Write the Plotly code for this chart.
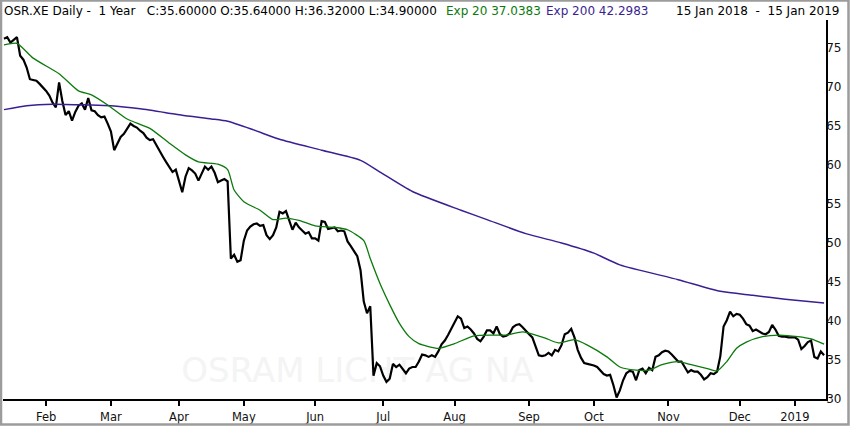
import pandas as pd
import plotly.graph_objects as go

# ---------------- data ----------------
holidays = ["2018-03-30", "2018-04-02", "2018-05-01", "2018-12-24",
            "2018-12-25", "2018-12-26", "2018-12-31", "2019-01-01"]
dates = [d.strftime("%Y-%m-%d") for d in pd.bdate_range("2018-01-15", "2019-01-15")
         if d.strftime("%Y-%m-%d") not in holidays]

close = [
    76.2, 76.4, 75.7, 76.0, 76.4, 74.0, 73.5, 72.5, 71.0, 70.9,
    70.8, 70.4, 70.0, 69.5, 68.9, 68.0, 67.4, 70.6, 68.2, 66.4,
    66.9, 65.7, 66.8, 67.6, 67.9, 67.1, 68.6, 67.0, 66.9, 66.4,
    66.1, 66.2, 65.3, 64.3, 61.9, 62.8, 63.6, 64.0, 64.6, 65.3,
    65.0, 64.8, 64.4, 64.1, 63.5, 63.2, 63.3, 62.5, 61.7, 61.1,
    60.4, 59.7, 59.1, 59.4, 57.8, 56.5, 58.5, 59.6, 59.3, 58.9,
    58.0, 59.0, 59.8, 59.4, 59.8, 59.0, 57.8, 58.0, 58.2, 57.9,
    48.0, 48.5, 47.6, 47.8, 50.3, 51.6, 52.1, 52.4, 52.5, 52.2,
    52.3, 51.0, 50.5, 51.0, 52.0, 54.0, 53.8, 54.1, 53.0, 51.7,
    52.6, 52.0, 51.6, 51.2, 51.4, 50.6, 50.6, 50.3, 52.8, 52.7,
    51.8, 51.9, 52.0, 51.5, 51.6, 51.5, 50.2, 49.6, 49.0, 48.3,
    46.5, 42.5, 41.0, 41.9, 33.0, 34.6, 34.2, 33.0, 32.2, 32.6,
    34.5, 34.1, 34.4, 33.9, 33.3, 33.9, 34.1, 34.1, 34.8, 35.7,
    35.6, 35.4, 35.6, 35.4, 36.1, 37.0, 37.5, 38.2, 39.1, 39.8,
    40.6, 40.3, 39.1, 39.3, 38.9, 38.4, 37.7, 37.4, 38.0, 38.8,
    38.8, 38.4, 39.3, 38.3, 38.0, 38.1, 38.4, 39.2, 39.5, 39.6,
    39.2, 38.7, 38.3, 37.9, 36.8, 35.6, 35.5, 35.6, 35.9, 35.6,
    36.3, 36.1, 36.9, 38.3, 38.5, 39.0, 37.9, 36.3, 35.3, 34.6,
    34.5, 34.4, 34.3, 34.1, 33.7, 33.2, 33.0, 33.1, 31.8, 30.2,
    31.1, 32.4, 33.3, 33.6, 33.5, 32.4, 33.7, 33.9, 33.3, 34.0,
    33.7, 35.4, 35.6, 36.0, 36.2, 36.1, 35.7, 35.3, 34.8, 34.8,
    34.0, 33.4, 33.7, 33.5, 33.5, 33.1, 32.5, 32.8, 33.3, 33.2,
    33.5, 35.5, 39.3, 40.1, 41.2, 40.6, 40.9, 40.8, 40.3, 39.6,
    39.4, 38.7, 38.9, 38.6, 38.4, 38.3, 38.6, 39.5, 38.9, 38.1,
    38.0, 38.0, 37.9, 37.9, 37.9, 37.6, 36.4, 36.8, 37.3, 37.5,
    35.4, 35.2, 36.1, 35.6,
]

# Exp 20 (at trading-day positions)
ema20_idx = [0, 4, 9, 17, 23, 27, 32, 38, 45, 51, 56, 60, 66, 69, 71, 74, 79, 83,
             87, 91, 96, 102, 106, 111, 113, 116, 119, 122, 125, 128, 134, 139, 145,
             151, 155, 160, 164, 167, 171, 176, 180, 186, 190, 195, 199, 203, 208,
             212, 217, 220, 223, 226, 229, 234, 239, 245, 249, 253]
ema20_val = [75.4, 75.6, 73.7, 71.7, 69.5, 69.0, 67.7, 65.9, 64.7, 62.8, 61.3, 60.4,
             60.1, 59.4, 56.8, 55.3, 54.2, 53.0, 53.2, 52.9, 52.2, 52.0, 51.7, 50.3,
             48.0, 44.8, 42.1, 39.7, 38.0, 37.1, 36.5, 37.1, 38.1, 38.2, 38.2, 38.6,
             38.2, 37.8, 37.2, 37.6, 36.9, 35.4, 34.1, 33.7, 33.7, 34.4, 34.8, 34.4,
             33.9, 33.6, 34.8, 36.5, 37.3, 38.0, 38.2, 38.0, 37.7, 37.04]

# Exp 200
ema200_idx = [0, 7, 15, 26, 33, 42, 50, 56, 64, 69, 77, 85, 98, 110, 116, 126,
              141, 149, 161, 172, 182, 190, 208, 221, 231, 241, 253]
ema200_val = [67.1, 67.6, 67.8, 67.7, 67.6, 67.2, 66.7, 66.3, 65.9, 65.6, 64.5,
              63.3, 61.9, 60.6, 59.1, 56.6, 54.2, 53.0, 51.2, 50.0, 48.7, 47.2,
              45.3, 43.8, 43.3, 42.8, 42.30]

tick_text = ["Feb", "Mar", "Apr", "May", "Jun", "Jul", "Aug", "Sep", "Oct",
             "Nov", "Dec", "2019"]
y_ticks = [30, 35, 40, 45, 50, 55, 60, 65, 70, 75]

# first trading day of each month from Feb 2018
tick_vals = []
seen = set()
for d in dates:
    m = d[:7]
    if m not in seen:
        seen.add(m)
        if m != "2018-01":
            tick_vals.append(d)

# ---------------- figure ----------------
W, H = 850, 426
L, R, T, B = 3, 24, 20, 27
pw, ph = W - L - R, H - T - B


def px(x):
    return (x - L) / pw


def py(y):
    return (H - B - y) / ph


GREEN = "#0b7a0b"
PURPLE = "#3a1f92"

fig = go.Figure()
fig.add_trace(go.Scatter(x=dates, y=close, mode="lines",
                         line=dict(color="black", width=2.2), hoverinfo="skip"))
fig.add_trace(go.Scatter(x=[dates[i] for i in ema200_idx], y=ema200_val, mode="lines",
                         line=dict(color=PURPLE, width=1.5, shape="spline", smoothing=0.6),
                         hoverinfo="skip"))
fig.add_trace(go.Scatter(x=[dates[i] for i in ema20_idx], y=ema20_val, mode="lines",
                         line=dict(color=GREEN, width=1.3, shape="spline", smoothing=0.6),
                         hoverinfo="skip"))

font_main = dict(family="DejaVu Sans", size=12, color="black")
annotations = [
    dict(x=px(3), y=py(11), text="OSR.XE Daily -  1 Year   C:35.60000 O:35.64000 H:36.32000 L:34.90000",
         font=font_main),
    dict(x=px(445), y=py(11), text="Exp 20 37.0383", font=dict(font_main, color=GREEN)),
    dict(x=px(545), y=py(11), text="Exp 200 42.2983", font=dict(font_main, color=PURPLE)),
    dict(x=px(840), y=py(11), text="15 Jan 2018  -  15 Jan 2019", font=font_main,
         xanchor="right"),
]
for a in annotations:
    a.setdefault("xanchor", "left")
    a.update(xref="paper", yref="paper", yanchor="middle", showarrow=False,
             borderpad=0)

fig.update_layout(
    width=W, height=H,
    margin=dict(l=L, r=R, t=T, b=B, pad=0, autoexpand=False),
    paper_bgcolor="white", plot_bgcolor="white",
    showlegend=False,
    annotations=annotations,
    shapes=[
        dict(type="rect", xref="paper", yref="paper", layer="below",
             x0=px(170), x1=px(545), y0=py(385), y1=py(350),
             line=dict(width=0), fillcolor="rgba(0,0,0,0)",
             label=dict(text="OSRAM LICHT AG NA", textposition="middle center",
                        font=dict(family="DejaVu Sans", size=34, color="#f4f4f4"))),
        dict(type="rect", xref="paper", yref="paper", layer="above",
             x0=px(1), x1=px(848.5), y0=py(424.5), y1=py(0.5),
             line=dict(color="#9c9c9c", width=2.5)),
    ],
)
fig.update_xaxes(type="category", categoryorder="array", categoryarray=dates,
                 range=[-0.3, 253.6], tickmode="array", automargin=False,
                 tickvals=tick_vals, ticktext=tick_text, tickangle=0, showgrid=False,
                 showline=True, linecolor="black", linewidth=1.5,
                 ticks="outside", ticklen=5, tickwidth=1.5, tickcolor="black",
                 ticklabelstandoff=1,
                 tickfont=dict(family="DejaVu Sans", size=11.5, color="#111"),
                 zeroline=False, fixedrange=True)
fig.update_yaxes(side="right", range=[30, 30 + ph / 7.8], tickmode="array",
                 automargin=False, ticklabelstandoff=-4,
                 tickvals=y_ticks, showgrid=False, showline=True,
                 linecolor="black", linewidth=1.5, ticks="",
                 tickfont=dict(family="DejaVu Sans", size=12, color="#111"),
                 zeroline=False, fixedrange=True)

fig.write_html("out.html", config={"displayModeBar": False},
               post_script="document.body.style.margin='0';document.body.style.overflow='hidden';")
